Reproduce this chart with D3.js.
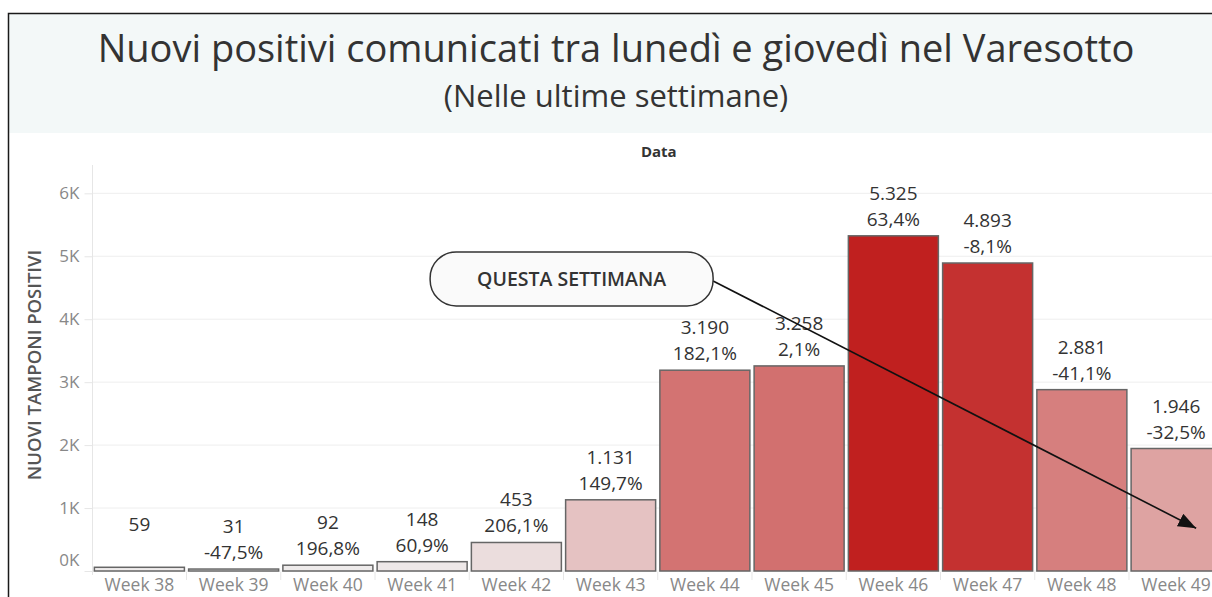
<!DOCTYPE html>
<html>
<head>
<meta charset="utf-8">
<script src="https://cdn.jsdelivr.net/npm/d3@7"></script>
<style>
    body { margin: 0; background: #fff; font-family: "Open Sans", sans-serif; }
    svg { display: block; }
</style>
</head>
<body>
<div id="chart"></div>
<script>
// Data
const weeks = ['Week 38', 'Week 39', 'Week 40', 'Week 41', 'Week 42', 'Week 43',
    'Week 44', 'Week 45', 'Week 46', 'Week 47', 'Week 48', 'Week 49'];
const positives = [59, 31, 92, 148, 453, 1131, 3190, 3258, 5325, 4893, 2881, 1946];
const yTicks = [0, 1000, 2000, 3000, 4000, 5000, 6000];

const title = 'Nuovi positivi comunicati tra lunedì e giovedì nel Varesotto';
const subtitle = '(Nelle ultime settimane)';
const note = 'QUESTA SETTIMANA';

const W = 1212, H = 597;
const plot = { left: 92.5, right: 1223, top: 165, bottom: 571 };

const svg = d3.select('#chart').append('svg')
    .attr('width', W)
    .attr('height', H);

// Header band + frame
svg.append('rect')
    .attr('x', 9).attr('y', 14)
    .attr('width', W).attr('height', 119)
    .attr('fill', '#f3f8f8');

svg.append('rect')
    .attr('x', 8.5).attr('y', 13.5)
    .attr('width', W + 20).attr('height', H + 20)
    .attr('fill', 'none')
    .attr('stroke', '#1a1a1a')
    .attr('stroke-width', 1.5);

svg.append('text')
    .attr('x', 616).attr('y', 62)
    .attr('text-anchor', 'middle')
    .attr('fill', '#333')
    .style('font-size', '38px')
    .text(title);

svg.append('text')
    .attr('x', 616).attr('y', 107)
    .attr('text-anchor', 'middle')
    .attr('fill', '#333')
    .style('font-size', '31px')
    .text(subtitle);

// Scales
const x = d3.scaleBand()
    .domain(weeks)
    .range([plot.left, plot.right])
    .paddingInner(0.045)
    .paddingOuter(0.02);

const y = d3.scaleLinear()
    .domain([0, 6450])
    .range([plot.bottom, plot.top]);

const color = d3.scaleLinear()
    .domain([d3.min(positives), d3.max(positives)])
    .range(['#efeded', '#c0201f']);

const data = weeks.map((w, i) => ({
    week: w,
    value: positives[i],
    change: i === 0 ? null : positives[i] / positives[i - 1] - 1
}));

const itNum = d3.formatLocale({ decimal: ',', thousands: '.', grouping: [3], currency: ['€', ''], minus: '-' });
const fmtValue = itNum.format(',d');
const fmtPct = itNum.format('.1%');

const g = svg.append('g');

// "Data" header
g.append('text')
    .attr('x', (plot.left + plot.right) / 2 + 1)
    .attr('y', 157)
    .attr('text-anchor', 'middle')
    .attr('fill', '#333')
    .style('font-size', '15px')
    .style('font-weight', 'bold')
    .text('Data');

// Gridlines
g.selectAll('.grid').data(yTicks).enter().append('line')
    .attr('class', 'grid')
    .attr('x1', plot.left).attr('x2', W)
    .attr('y1', d => y(d)).attr('y2', d => y(d))
    .attr('stroke', '#eeeeee')
    .attr('stroke-width', 1);

// Y axis
const yAxisG = g.append('g')
    .attr('transform', `translate(${plot.left},0)`)
    .call(d3.axisLeft(y).tickValues(yTicks).tickSize(8).tickPadding(5)
        .tickFormat(d => (d / 1000) + 'K'));

yAxisG.select('.domain')
    .attr('d', `M0,${plot.top}V${plot.bottom + 4}`)
    .attr('stroke', '#e6e6e6');
yAxisG.selectAll('.tick line').attr('stroke', '#e6e6e6');
yAxisG.selectAll('.tick text')
    .attr('fill', '#888')
    .style('font-size', '17px')
    .style('font-family', '"Open Sans", sans-serif')
    .attr('dy', d => d === 0 ? '-0.35em' : '0.32em');

g.append('text')
    .attr('transform', `translate(41,${(plot.top + plot.bottom) / 2 - 3}) rotate(-90)`)
    .attr('text-anchor', 'middle')
    .attr('fill', '#555')
    .style('font-size', '18.5px')
    .style('font-weight', '600')
    .text('NUOVI TAMPONI POSITIVI');

// Band separators under the x axis
g.selectAll('.sep').data(weeks.slice(1)).enter().append('line')
    .attr('class', 'sep')
    .attr('x1', d => x(d) - x.step() * x.paddingInner() / 2)
    .attr('x2', d => x(d) - x.step() * x.paddingInner() / 2)
    .attr('y1', plot.bottom + 1).attr('y2', plot.bottom + 9)
    .attr('stroke', '#e6e6e6');

// Bars
g.selectAll('.bar').data(data).enter().append('rect')
    .attr('class', 'bar')
    .attr('x', d => x(d.week))
    .attr('y', d => y(d.value))
    .attr('width', x.bandwidth())
    .attr('height', d => y(0) - y(d.value))
    .attr('fill', d => color(d.value))
    .attr('stroke', '#666')
    .attr('stroke-width', 1.5);

// Value labels
g.selectAll('.val').data(data).enter().append('text')
    .attr('class', 'val')
    .attr('x', d => x(d.week) + x.bandwidth() / 2)
    .attr('y', d => y(d.value) - 36)
    .attr('text-anchor', 'middle')
    .attr('fill', '#333')
    .style('font-size', '19px')
    .text(d => fmtValue(d.value));

g.selectAll('.pct').data(data.filter(d => d.change !== null)).enter().append('text')
    .attr('class', 'pct')
    .attr('x', d => x(d.week) + x.bandwidth() / 2)
    .attr('y', d => y(d.value) - 10)
    .attr('text-anchor', 'middle')
    .attr('fill', '#333')
    .style('font-size', '19px')
    .text(d => fmtPct(d.change));

// X axis labels
g.selectAll('.xlab').data(weeks).enter().append('text')
    .attr('class', 'xlab')
    .attr('x', d => x(d) + x.bandwidth() / 2)
    .attr('y', plot.bottom + 20)
    .attr('text-anchor', 'middle')
    .attr('fill', '#888')
    .style('font-size', '17.5px')
    .text(d => d);

// Annotation: pill + arrow to the current week
const boxCx = x('Week 43') + 6, boxCy = y(4640);
const boxW = 283, boxH = 54;
const arrowEnd = [x('Week 49') + x.step() * 0.69, y(680)];
const arrowStart = [boxCx + boxW / 2, boxCy + 2];

svg.append('defs').append('marker')
    .attr('id', 'head')
    .attr('viewBox', '0 0 10 10')
    .attr('refX', 10).attr('refY', 5)
    .attr('markerUnits', 'userSpaceOnUse')
    .attr('orient', 'auto')
    .attr('markerWidth', 18).attr('markerHeight', 14)
    .attr('preserveAspectRatio', 'none')
    .append('path')
    .attr('d', 'M0,0L10,5L0,10Z')
    .attr('fill', '#111');

g.append('line')
    .attr('x1', arrowStart[0]).attr('y1', arrowStart[1])
    .attr('x2', arrowEnd[0]).attr('y2', arrowEnd[1])
    .attr('stroke', '#111')
    .attr('stroke-width', 1.6)
    .attr('marker-end', 'url(#head)');

g.append('rect')
    .attr('x', boxCx - boxW / 2).attr('y', boxCy - boxH / 2)
    .attr('width', boxW).attr('height', boxH)
    .attr('rx', 26).attr('ry', 26)
    .attr('fill', '#fafafa')
    .attr('stroke', '#333')
    .attr('stroke-width', 1.5);

g.append('text')
    .attr('x', boxCx).attr('y', boxCy + 7)
    .attr('text-anchor', 'middle')
    .attr('fill', '#333')
    .style('font-size', '19.5px')
    .style('font-weight', '600')
    .text(note);
</script>
</body>
</html>
